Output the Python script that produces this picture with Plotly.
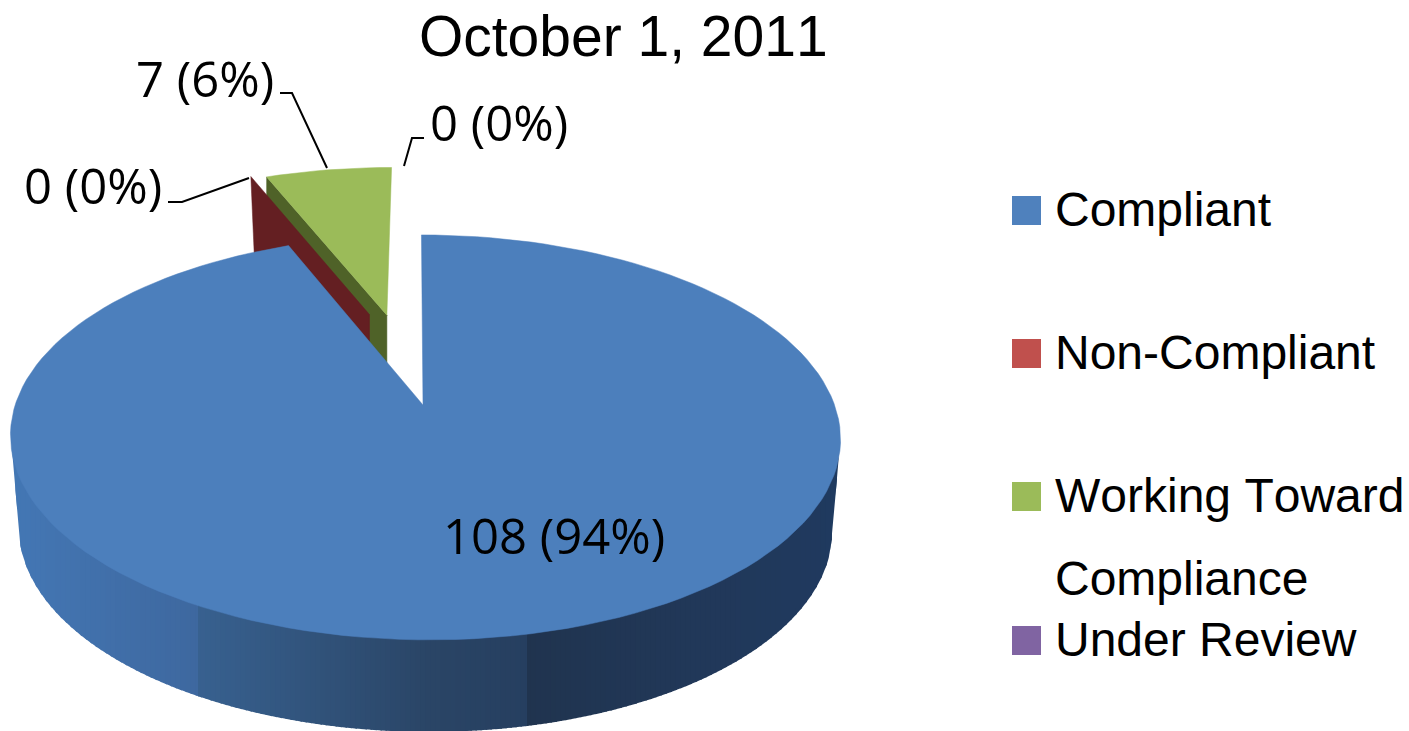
import math
import numpy as np
import plotly.graph_objects as go

# ---- data ----
CATEGORIES = ["Compliant", "Non-Compliant", "Working Toward", "Under Review"]
LEGEND_CONTINUATION = "Compliance"
VALUES = [108, 0, 7, 0]
TITLE = "October 1, 2011"

# ---- styles ----
TOP_COLORS = ["#4c7fbc", "#c0504d", "#9bbb59", "#8064a2"]
WALL_COLORS = ["#2b4a6e", "#641f22", "#4f6228", "#403152"]
LEGEND_COLORS = ["#4f81bd", "#c0504d", "#9bbb59", "#8064a2"]
LABEL_FONT = "Open Sans"
SANS = "Liberation Sans"

# ---- projection of the tilted pie onto the pixel-sized axes ----
CX, CY = 423, 405
AX, AY = 409.7, 197.3
K = 0.16
DEPTH = 92
BACK_DEPTH = 92
EXPLODE_GREEN = 0.50
EXPLODE_RED = 0.514
STEPS = 160


def project(u, v):
    w = 1 - K * v
    return CX + AX * u / w, CY + AY * v / w


def polar(theta, r=1.0):
    return r * math.sin(theta), -r * math.cos(theta)


def wedge_top(a0, a1, ox=0.0, oy=0.0):
    xs, ys = [], []
    x, y = project(ox, oy)
    xs.append(x); ys.append(y)
    n = max(2, int(STEPS * (a1 - a0) / (2 * math.pi)) + 2)
    for i in range(n):
        t = a0 + (a1 - a0) * i / (n - 1)
        u, v = polar(t)
        x, y = project(u + ox, v + oy)
        xs.append(x); ys.append(y)
    xs.append(xs[0]); ys.append(ys[0])
    return xs, ys


def main_slice_x(x, y):
    # the main slice's rim sits a little right of the projected centre and leans slightly
    return x + 2.5 + 0.02 * (y - 437)


def lerp_hex(c0, c1, f):
    a = [int(c0[i:i + 2], 16) for i in (1, 3, 5)]
    b = [int(c1[i:i + 2], 16) for i in (1, 3, 5)]
    return "#%02x%02x%02x" % tuple(round(p + (q - p) * f) for p, q in zip(a, b))


SHADE = [
    (0, 198, "#4478b6", "#3e689f"),
    (198, 430, "#386190", "#2a4566"),
    (430, 527, "#2a4566", "#263f60"),
    (527, 700, "#20344f", "#213859"),
    (700, 860, "#213859", "#1f3a60"),
]


def wall_color(x):
    for x0, x1, c0, c1 in SHADE:
        if x0 <= x < x1:
            return lerp_hex(c0, c1, (x - x0) / (x1 - x0))
    return SHADE[-1][3]


def poly(xs, ys, color, width=0.5):
    return go.Scatter(x=xs, y=ys, mode="lines", fill="toself", fillcolor=color,
                      line=dict(color=color, width=width), hoverinfo="skip", showlegend=False)


total = sum(VALUES)
angles = [0.0]
for value in VALUES:
    angles.append(angles[-1] + 2 * math.pi * value / total)

fig = go.Figure()

# exploded wedge: Working Toward Compliance
a0, a1 = angles[2], angles[3]
ox, oy = polar((a0 + a1) / 2, EXPLODE_GREEN)
ex, ey = polar(a0)
ax_, ay_ = project(ox, oy)
bx_, by_ = project(ex + ox, ey + oy)
fig.add_trace(poly([bx_, ax_, ax_, bx_, bx_],
                   [by_, ay_, ay_ + BACK_DEPTH, by_ + BACK_DEPTH, by_], WALL_COLORS[2]))
xs, ys = wedge_top(a0, a1, ox, oy)
fig.add_trace(poly(xs, ys, TOP_COLORS[2]))

# zero-width wedge: Non-Compliant, only its cut face shows
r0 = angles[1]
rox, roy = polar(r0 + math.radians(6.0), EXPLODE_RED)
ex, ey = polar(r0 - math.radians(0.1))
ax_, ay_ = project(rox, roy)
bx_, by_ = project(ex + rox, ey + roy)
fig.add_trace(poly([bx_, ax_, ax_, bx_ + 4, bx_],
                   [by_, ay_, ay_ + BACK_DEPTH, by_ + BACK_DEPTH, by_], WALL_COLORS[1]))

# rims of the main slice
rim_t = np.radians(np.linspace(60, 300, 400))[::-1]
rim_pts = [project(*polar(t)) for t in rim_t]
rim_x = np.array([main_slice_x(x, y) for x, y in rim_pts])
rim_y = np.array([y for _, y in rim_pts])
low_x = 425 + (rim_x - 425) * 0.98
low_y = rim_y + DEPTH
i_left_top, i_right_top = int(np.argmin(rim_x)), int(np.argmax(rim_x))
i_left_low, i_right_low = int(np.argmin(low_x)), int(np.argmax(low_x))
outline_x = np.concatenate(([rim_x[i_left_top]], low_x[i_left_low:i_right_low + 1], [rim_x[i_right_top]]))
outline_y = np.concatenate(([rim_y[i_left_top]], low_y[i_left_low:i_right_low + 1], [rim_y[i_right_top]]))
front_x = rim_x[i_left_top:i_right_top + 1]
front_y = rim_y[i_left_top:i_right_top + 1]

# side wall of the main slice, as upright shaded bands
x_min, x_max = rim_x[i_left_top], rim_x[i_right_top]
edges = np.unique(np.concatenate((np.arange(x_min, x_max, 5.0), [198.0, 527.0, x_max])))
for x0, x1 in zip(edges[:-1], edges[1:]):
    xb = np.linspace(x0, min(x1 + 1.5, x_max), 5)
    top = np.interp(xb, front_x, front_y) - 3
    low = np.interp(xb, outline_x, outline_y)
    color = wall_color((x0 + x1) / 2)
    fig.add_trace(poly(list(xb) + list(xb[::-1]) + [xb[0]],
                       list(top) + list(low[::-1]) + [top[0]], color, width=0))

# top face of the main slice
xs, ys = wedge_top(angles[0], angles[1])
xs = [CX if i in (0, len(xs) - 1) else main_slice_x(x, y) for i, (x, y) in enumerate(zip(xs, ys))]
fig.add_trace(poly(xs, ys, TOP_COLORS[0]))

# leader lines
LEADERS = [
    ([168, 182, 249], [202, 202, 178]),
    ([280, 292, 327], [93, 93, 168]),
    ([404, 412, 424], [166, 138, 138]),
]
for lx, ly in LEADERS:
    fig.add_trace(go.Scatter(x=lx, y=ly, mode="lines", line=dict(color="black", width=2),
                             hoverinfo="skip", showlegend=False))

# legend
LEGEND_Y = [210.5, 353.5, 496.5, 640.5]
fig.add_trace(go.Scatter(x=[1026.5] * 4, y=LEGEND_Y, mode="markers",
                         marker=dict(symbol="square", size=29, color=LEGEND_COLORS, line=dict(width=0)),
                         hoverinfo="skip", showlegend=False))

annotations = []
LEGEND_TEXT_Y = [209.5, 352.5, 495.5, 639.5]
legend_rows = list(zip(CATEGORIES, LEGEND_TEXT_Y)) + [(LEGEND_CONTINUATION, 578)]
for cat, y in legend_rows:
    annotations.append(dict(x=1053, y=y, text=cat, xanchor="left", yanchor="middle", align="left",
                            showarrow=False, font=dict(family=SANS, size=48, color="black")))


def label(i):
    return f"{VALUES[i]} ({round(100 * VALUES[i] / total)}%)"


LABEL_POS = [(554, 535), (92.5, 185), (204.5, 78), (499, 122)]
for i, (x, y) in enumerate(LABEL_POS):
    annotations.append(dict(x=x, y=y, text=label(i), xanchor="center", yanchor="middle",
                            showarrow=False,
                            font=dict(family=LABEL_FONT, size=49, color="black", weight=500)))

annotations.append(dict(x=623, y=36, text=TITLE, xanchor="center", yanchor="middle", showarrow=False,
                        font=dict(family=SANS, size=57, color="black")))

fig.update_layout(
    width=1409, height=731, autosize=False,
    margin=dict(l=0, r=0, t=0, b=0, pad=0),
    paper_bgcolor="white", plot_bgcolor="white",
    showlegend=False,
    xaxis=dict(range=[0, 1409], visible=False, fixedrange=True),
    yaxis=dict(range=[731, 0], visible=False, fixedrange=True),
    annotations=annotations,
)
fig.write_html("out.html", config={"displayModeBar": False},
               post_script="document.body.style.margin='0';document.body.style.overflow='hidden';"
                           "var s=document.createElement('style');s.textContent='text{font-kerning:none}';"
                           "document.head.appendChild(s);")
